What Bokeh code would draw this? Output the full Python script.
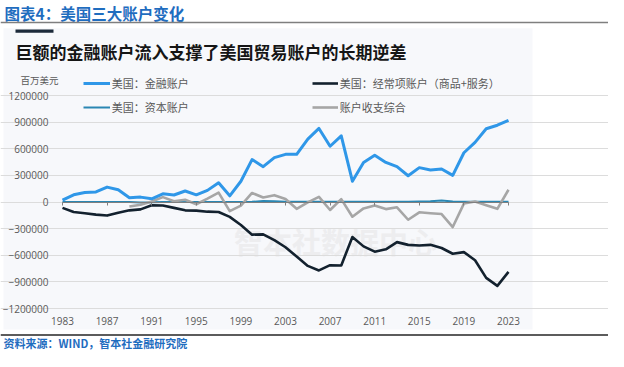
from bokeh.plotting import figure
from bokeh.models import (Range1d, FixedTicker, BasicTickFormatter, Legend, LegendItem,
                          LinearAxis, Grid)
from bokeh.embed import file_html
from bokeh.resources import INLINE
from bokeh.core.properties import value

# ---------------- data ----------------
years = list(range(1983, 2024))
financial = [22000, 81000, 106000, 113000, 168000, 138000, 48000, 55000, 36000, 92000,
             79000, 124000, 81000, 131000, 216000, 70000, 234000, 478000, 398000, 500000,
             537000, 537000, 708000, 829000, 628000, 745000, 234000, 446000, 526000, 446000,
             398000, 296000, 387000, 361000, 372000, 300000, 555000, 672000, 825000, 865000,
             920000]
current = [-66000, -113000, -127000, -142000, -153000, -120000, -94000, -83000, -36000, -40000,
           -66000, -94000, -97000, -109000, -113000, -168000, -259000, -368000, -365000, -430000,
           -510000, -615000, -720000, -771000, -712000, -715000, -395000, -500000, -560000, -533000,
           -452000, -483000, -490000, -483000, -518000, -583000, -565000, -656000, -855000, -945000,
           -788000]
capital = [0, 0, 0, 0, 0, 0, 0, -5000, -3000, 0,
           0, 0, 0, 0, 0, 0, 0, 2000, 12000, 8000,
           3000, 2000, 2000, 2000, 2000, 3000, 2000, 2000, 2000, 2000,
           2000, 2000, 5000, 8000, 18000, 6000, 2000, 2000, 2000, 2000,
           2000]
combined_years = list(range(1989, 2024))
combined = [-50000, -30000, 5000, 55000, 8000, 25000, -25000, 38000, 106000, -102000,
            -40000, 102000, 51000, 77000, 33000, -77000, -5000, 58000, -90000, 33000,
            -166000, -72000, -40000, -80000, -60000, -200000, -116000, -127000, -136000, -282000,
            -18000, 6000, -36000, -77000, 138000]
tick_years = [1983, 1987, 1991, 1995, 1999, 2003, 2007, 2011, 2015, 2019, 2023]
y_ticks = [-1200000, -900000, -600000, -300000, 0, 300000, 600000, 900000, 1200000]

header_text = "图表4：美国三大账户变化"
title_text = "巨额的金融账户流入支撑了美国贸易账户的长期逆差"
unit_text = "百万美元"
names = ["美国：金融账户", "美国：资本账户", "美国：经常项账户（商品+服务）", "账户收支综合"]
source_text = "资料来源：WIND，智本社金融研究院"
watermark = "智本社数据中心"

# ---------------- styles ----------------
PANEL = "#f7f8fb"
BLUE_HDR = "#1f6dbf"
C_FIN = "#2f97e8"
C_CUR = "#13212e"
C_CAP = "#2a87b3"
C_COMB = "#a6a6a6"
GRAY_TXT = "#595959"
CJK = value("Noto Sans CJK SC")
NUM = "Open Sans"

W, H = 608, 351

# canvas pixel -> data helpers (1983 at x=62, 2023 at x=508; +1.2M at y=95, -1.2M at y=308)
TOP_Y, BOT_Y = 95.0, 308.0
ZERO_Y = (TOP_Y + BOT_Y) / 2
PPV = 2400000 / (BOT_Y - TOP_Y)


def X(px):
    return 1983 + (px - 62) * 40 / 446


def Y(py):
    return (ZERO_Y - py) * PPV


p = figure(width=W, height=H, x_range=Range1d(X(0), X(W)), y_range=Range1d(Y(H), Y(0)),
           output_backend="svg", toolbar_location=None, x_axis_type=None, y_axis_type=None,
           title=None, min_border=0, min_border_left=0, min_border_right=0,
           min_border_top=0, min_border_bottom=0)
p.outline_line_color = None
p.background_fill_color = "white"
p.border_fill_color = "white"

# panel background
p.quad(left=[X(3)], right=[X(532)], top=[Y(27.7)], bottom=[Y(329)],
       color=PANEL, line_color=None, level="image")

# grid limited to the plotting range
grid = Grid(dimension=1, ticker=FixedTicker(ticks=y_ticks), bounds=(1983, 2023),
            grid_line_color="#dcdcdc", grid_line_width=1)
p.add_layout(grid)

# y axis (labels only), fixed at the first year
yax = LinearAxis(ticker=FixedTicker(ticks=y_ticks), formatter=BasicTickFormatter(use_scientific=False),
                 fixed_location=1983)
yax.axis_line_color = None
yax.major_tick_line_color = None
yax.minor_tick_line_color = None
yax.major_tick_out = 0
yax.major_tick_in = 0
yax.major_label_standoff = 14
yax.major_label_text_font = NUM
yax.major_label_text_font_size = "10px"
yax.major_label_text_color = GRAY_TXT
p.add_layout(yax, "left")

# x axis line + ticks at zero
x0ax = LinearAxis(ticker=FixedTicker(ticks=tick_years), fixed_location=0, bounds=(1983, 2023))
x0ax.axis_line_color = "#7f7f7f"
x0ax.axis_line_width = 1
x0ax.major_tick_line_color = "#7f7f7f"
x0ax.major_tick_out = 3
x0ax.major_tick_in = 0
x0ax.minor_tick_line_color = None
x0ax.major_label_text_alpha = 0
p.add_layout(x0ax, "below")

# x axis labels at the bottom
xax = LinearAxis(ticker=FixedTicker(ticks=tick_years), fixed_location=-1200000)
xax.axis_line_color = None
xax.major_tick_line_color = None
xax.minor_tick_line_color = None
xax.major_tick_out = 0
xax.major_tick_in = 0
xax.major_label_standoff = 8
xax.major_label_text_font = NUM
xax.major_label_text_font_size = "10px"
xax.major_label_text_color = GRAY_TXT
p.add_layout(xax, "below")

# watermark
p.text(x=[X(335)], y=[Y(240)], text=[watermark], text_align="center", text_baseline="middle",
       text_font=CJK, text_font_style="bold", text_font_size="29px", text_color="#ededef",
       level="underlay")

# series
r_cap = p.line(years, capital, line_color=C_CAP, line_width=2)
r_comb = p.line(combined_years, combined, line_color=C_COMB, line_width=2.6, line_join="round")
r_fin = p.line(years, financial, line_color=C_FIN, line_width=3, line_join="round")
r_cur = p.line(years, current, line_color=C_CUR, line_width=2.6, line_join="round")

# header, title, unit, footer
p.text(x=[X(4)], y=[Y(12)], text=[header_text], text_baseline="middle", text_align="left",
       text_font=CJK, text_font_style="bold", text_font_size="15.5px", text_color=BLUE_HDR)
p.segment(x0=[X(0)], y0=[Y(22)], x1=[X(W)], y1=[Y(22)], line_color="#7f7f7f", line_width=1.5)
p.quad(left=[X(15)], right=[X(53)], top=[Y(29)], bottom=[Y(32.3)], color="#1c2a3a", line_color=None)
p.text(x=[X(15)], y=[Y(50.5)], text=[title_text], text_baseline="middle", text_align="left",
       text_font=CJK, text_font_style="bold", text_font_size="17px", text_color="#151515")
p.text(x=[X(20)], y=[Y(79)], text=[unit_text], text_baseline="middle", text_align="left",
       text_font=CJK, text_font_size="9.5px", text_color=GRAY_TXT)
p.segment(x0=[X(0)], y0=[Y(334.5)], x1=[X(W)], y1=[Y(334.5)], line_color="#262626", line_width=1.5)
p.text(x=[X(3)], y=[Y(342.5)], text=[source_text], text_baseline="middle", text_align="left",
       text_font=CJK, text_font_style="bold", text_font_size="11px", text_color=BLUE_HDR)


def make_legend(items, loc, gw):
    lg = Legend(items=items, location=loc, orientation="vertical")
    lg.label_text_font = "Noto Sans CJK SC"
    lg.label_text_font_size = "11px"
    lg.label_text_color = GRAY_TXT
    lg.glyph_width = gw
    lg.glyph_height = 16
    lg.label_height = 16
    lg.label_standoff = 2
    lg.spacing = 8
    lg.padding = 0
    lg.margin = 0
    lg.background_fill_alpha = 0
    lg.border_line_color = None
    return lg


# legend locations: pixels from the canvas bottom-left
leg_a = make_legend([LegendItem(label=names[0], renderers=[r_fin]),
                     LegendItem(label=names[1], renderers=[r_cap])], (82.7, H - 114.7), 27)
leg_b = make_legend([LegendItem(label=names[2], renderers=[r_cur]),
                     LegendItem(label=names[3], renderers=[r_comb])], (311.7, H - 114.7), 26)
p.add_layout(leg_a)
p.add_layout(leg_b)

open("out.html", "w").write(file_html(p, INLINE))
